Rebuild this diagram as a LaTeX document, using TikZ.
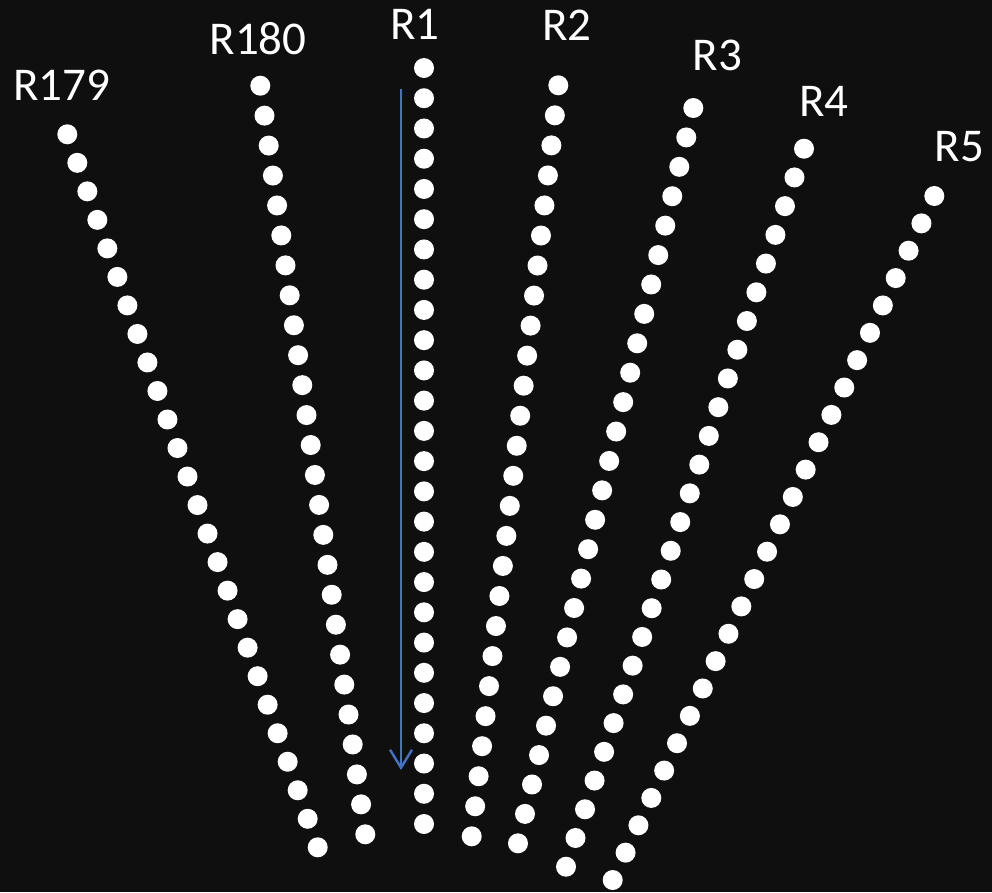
\documentclass[tikz,border=0pt]{standalone}
\usepackage{fontspec}
\setmainfont{Carlito}
\usetikzlibrary{calc,arrows.meta}
\definecolor{bg}{RGB}{15,15,15}
\definecolor{arrowblue}{RGB}{68,114,196}
\begin{document}
\begin{tikzpicture}[x=1pt,y=-1pt,
  dot/.style={circle,fill=white,inner sep=0pt,minimum size=20pt},
  lbl/.style={text=white,font=\fontsize{47}{47}\selectfont,inner sep=0pt},
  flow/.style={draw=arrowblue,line width=2.4pt,-{Straight Barb[length=18pt,width=22pt]}}]
\fill[bg] (0,0) rectangle (992,892);
\useasboundingbox (0,0) rectangle (992,892);
\foreach \nm/\tx/\ty/\bx/\by in {R179/67.3/134.3/317.7/847.3,
                                 R180/260.3/85.7/365.3/834.3,
                                 R1/424/68/424/824,
                                 R2/558.3/85.3/471.7/836.3,
                                 R3/693.3/108/518/843.3,
                                 R4/804/148.7/566/866.7,
                                 R5/934.3/196/612.7/880} {
  \coordinate (\nm-top) at (\tx,\ty);
  \coordinate (\nm-bot) at (\bx,\by);
  \foreach \i in {0,...,25}
    \node[dot] (\nm-\i) at ($(\nm-top)!\i/25!(\nm-bot)$) {};
}
\node[lbl] (lR179) at (61.7,85) {R179};
\node[lbl] (lR180) at (258,39) {R180};
\node[lbl] (lR1) at (415,24) {R1};
\node[lbl] (lR2) at (566.7,25) {R2};
\node[lbl] (lR3) at (717.3,55) {R3};
\node[lbl] (lR4) at (824,101.7) {R4};
\node[lbl] (lR5) at (959.3,146.7) {R5};
\coordinate (arrowstart) at (401,89);
\coordinate (arrowend) at (401,770);
\draw[flow] (arrowstart) -- (arrowend);
\end{tikzpicture}
\end{document}
